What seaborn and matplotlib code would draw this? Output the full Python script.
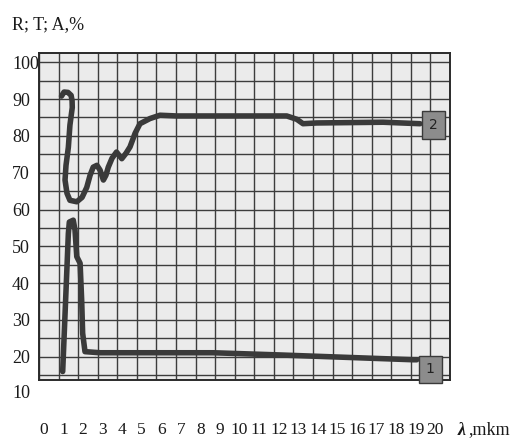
import numpy as np
import pandas as pd
import matplotlib
matplotlib.use("Agg")
import matplotlib.pyplot as plt
import seaborn as sns
from matplotlib.ticker import MultipleLocator, FixedLocator

# ---- data (x in grid units, y in %) ----
wl_1 = [1.21, 1.50, 1.55, 1.75, 1.84, 1.93, 2.10, 2.18, 2.23, 2.35, 3.12,
        8.89, 12.31, 19.11, 19.30]
pct_1 = [16.0, 53.5, 56.6, 57.1, 54.4, 47.2, 45.4, 35.4, 26.4, 21.4, 21.1,
         21.1, 20.5, 19.2, 19.2]

wl_2 = [1.15, 1.28, 1.48, 1.64, 1.69, 1.70, 1.58, 1.50, 1.38, 1.33, 1.43,
        1.58, 1.93, 2.20, 2.44, 2.61, 2.77, 2.96, 3.12, 3.29, 3.42, 3.54,
        3.73, 3.96, 4.23, 4.45, 4.65, 4.91, 5.16, 5.67, 6.18, 7.04, 12.66,
        13.17, 13.49, 14.19, 17.58, 19.47]
pct_2 = [90.8, 91.9, 91.8, 91.0, 89.6, 87.7, 82.9, 76.9, 72.0, 68.0, 64.4,
         62.5, 62.1, 63.3, 66.0, 69.3, 71.5, 72.0, 70.7, 68.0, 69.3, 71.5,
         73.9, 75.6, 73.8, 75.3, 77.0, 80.7, 83.3, 84.7, 85.6, 85.4, 85.4,
         84.5, 83.3, 83.5, 83.7, 83.3]

series_labels = ["1", "2"]
ytick_vals = [20, 30, 40, 50, 60, 70, 80, 90, 100]
extra_ylabel = 10
xtick_vals = list(range(0, 21))
title_text = "R; T; A,%"

sns.set_theme(style="white")
plt.rcParams["font.family"] = ["Liberation Serif", "DejaVu Serif"]

fig = plt.figure(figsize=(5.29, 4.40), dpi=100)
ax = fig.add_axes([39 / 529, 1 - 380 / 440, 411 / 529, 327 / 440])
ax.set_facecolor("#ebebeb")

line_color = "#3a3a3a"
for wl, pct in [(wl_1, pct_1), (wl_2, pct_2)]:
    df = pd.DataFrame({"wl": wl, "pct": pct})
    sns.lineplot(data=df, x="wl", y="pct", sort=False, estimator=None,
                 color=line_color, lw=4.0, solid_capstyle="round",
                 solid_joinstyle="round", ax=ax, zorder=3)

ax.set_xlim(0, 21)
ax.set_ylim(13.7, 102.5)
ax.xaxis.set_major_locator(MultipleLocator(1))
ax.yaxis.set_major_locator(FixedLocator(ytick_vals))
ax.yaxis.set_minor_locator(MultipleLocator(5))
ax.grid(which="both", color="#3c3c3c", lw=1.0)
ax.set_axisbelow(True)
ax.set_xlabel("")
ax.set_ylabel("")
ax.tick_params(axis="x", labelbottom=False, length=0)
ax.tick_params(axis="y", which="both", length=0, pad=19.5, labelsize=13,
               labelcolor="#1a1a1a")
for t in ax.get_yticklabels():
    t.set_horizontalalignment("left")
for s in ax.spines.values():
    s.set_color("#2a2a2a")
    s.set_linewidth(1.4)

ax.text(-27 / 411, extra_ylabel, str(extra_ylabel), transform=ax.get_yaxis_transform(),
        ha="left", va="center", fontsize=13, color="#1a1a1a", clip_on=False)

off = 0.25
sec = ax.secondary_xaxis("bottom", functions=(lambda x: x - off, lambda k: k + off))
sec.set_xticks(xtick_vals)
sec.tick_params(length=0, pad=30, labelsize=12.5, labelcolor="#1a1a1a")
sec.spines["bottom"].set_visible(False)

# series end labels
for wl, pct, lab, dy in [(wl_1, pct_1, series_labels[0], -7), (wl_2, pct_2, series_labels[1], -1)]:
    ax.annotate(lab, xy=(wl[-1], pct[-1]), xytext=(6.5, dy), textcoords="offset points",
                ha="left", va="center", fontsize=10, family="DejaVu Sans", color="#222222",
                bbox=dict(boxstyle="square,pad=0.5", fc="#8c8c8c", ec="#3a3a3a", lw=1.0),
                zorder=5, annotation_clip=False)

fig.text(12 / 529, 1 - 25 / 440, title_text, ha="left", va="center", fontsize=13,
         color="#1a1a1a")
fig.text(458 / 529, 1 - 430 / 440, "λ", ha="left", va="center", fontsize=13,
         style="italic", weight="bold", color="#1a1a1a")
fig.text(468 / 529, 1 - 430 / 440, ",mkm", ha="left", va="center", fontsize=13,
         color="#1a1a1a")

fig.savefig("out.png", dpi=100)
